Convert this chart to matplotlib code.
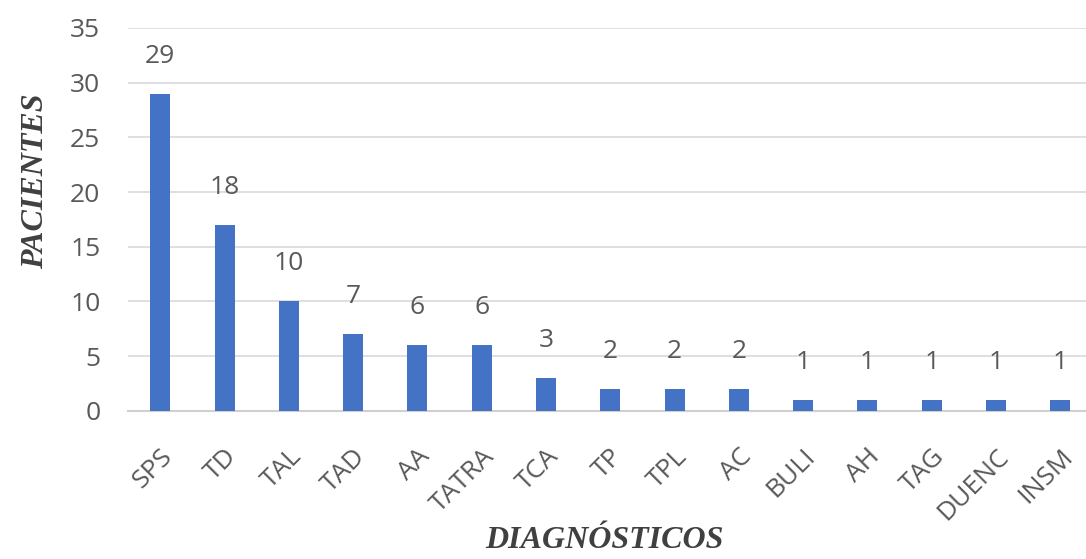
import matplotlib.pyplot as plt

# diagnósticos y número de pacientes
categories = ["SPS", "TD", "TAL", "TAD", "AA", "TATRA", "TCA", "TP", "TPL",
              "AC", "BULI", "AH", "TAG", "DUENC", "INSM"]
values = [29, 17, 10, 7, 6, 6, 3, 2, 2, 2, 1, 1, 1, 1, 1]
# etiquetas tal como aparecen en el gráfico
value_labels = ["29", "18", "10", "7", "6", "6", "3", "2", "2", "2",
                "1", "1", "1", "1", "1"]
y_ticks = [0, 5, 10, 15, 20, 25, 30, 35]

plt.rcParams['font.family'] = ['Open Sans', 'DejaVu Sans']
gray = '#595959'

fig = plt.figure(figsize=(10.86, 5.59), dpi=100)
ax = fig.add_axes([0.118, 0.265, 0.882, 0.685])

x = range(len(categories))
ax.bar(x, values, width=0.31, color='#4472C4', zorder=3)

for i, lab in enumerate(value_labels):
    ax.annotate(lab, (i, values[i]), xytext=(0, 18), textcoords='offset points',
                ha='center', va='bottom', fontsize=19, color=gray)

ax.set_ylim(0, 35)
ax.set_xlim(-0.5, 14.4)
ax.set_yticks(y_ticks)
ax.set_xticks(list(x))
ax.set_xticklabels(categories, rotation=45, ha='right', rotation_mode='anchor')
ax.tick_params(axis='both', length=0, labelsize=19, labelcolor=gray)
ax.tick_params(axis='x', pad=24)
ax.tick_params(axis='y', pad=20)
ax.yaxis.grid(True, color='#d9d9d9', linewidth=1.2, zorder=0)
for s in ['top', 'right', 'left']:
    ax.spines[s].set_visible(False)
ax.spines['bottom'].set_color('#d0d0d0')
ax.spines['bottom'].set_linewidth(1.5)

fig.text(0.557, 0.033, "DIAGNÓSTICOS", ha='center', va='center',
         family='Liberation Serif', fontweight='bold', fontstyle='italic',
         fontsize=23, color='#404040')
fig.text(0.033, 0.675, "PACIENTES", ha='center', va='center', rotation=90,
         family='Liberation Serif', fontweight='bold', fontstyle='italic',
         fontsize=23, color='#404040')

fig.savefig('out.png', dpi=100)
